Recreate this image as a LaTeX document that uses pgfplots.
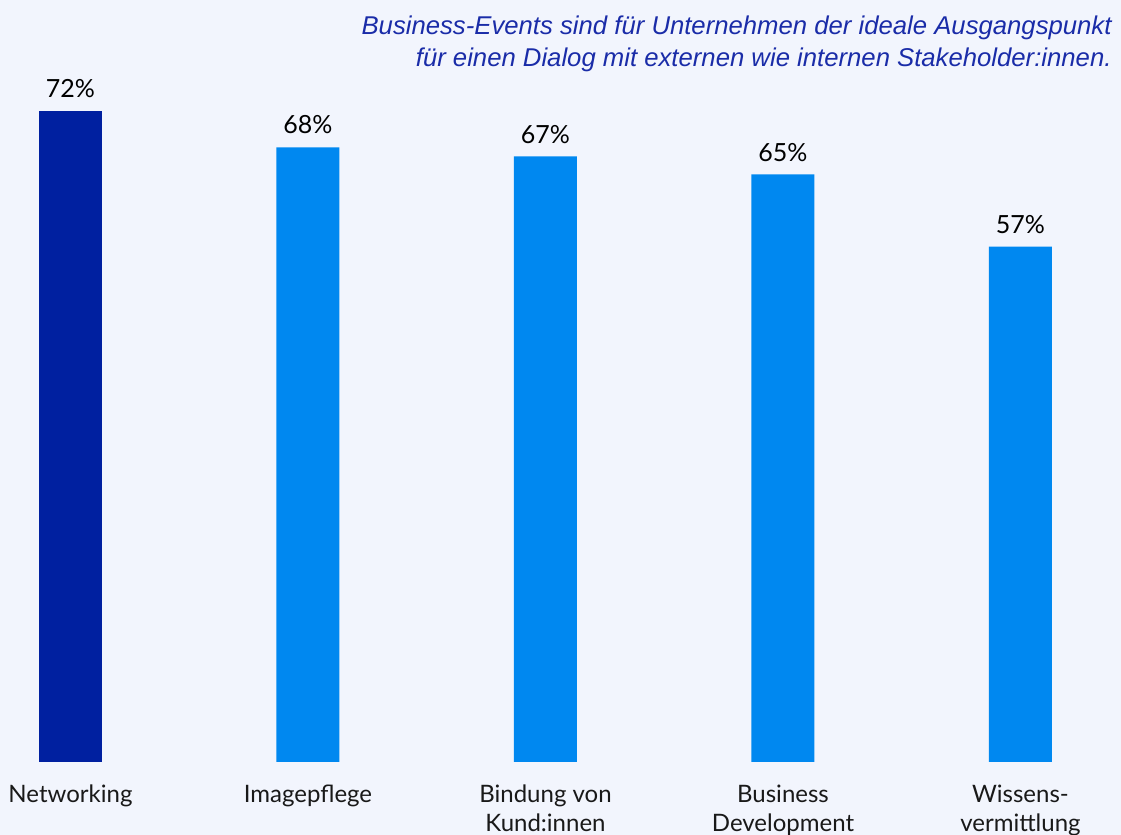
\documentclass[border=0pt]{standalone}
\usepackage{pgfplots}
\pgfplotsset{compat=1.18}
\usepackage{fontspec}
\setmainfont{Lato}
\newfontfamily\titlefont{Liberation Sans}
\definecolor{bg}{HTML}{F2F5FD}
\definecolor{darkbar}{HTML}{0020A0}
\definecolor{lightbar}{HTML}{0088F0}
\definecolor{titleblue}{HTML}{1A2CA8}
\begin{document}
\begin{tikzpicture}
\fill[bg] (0,-36.5pt) rectangle (560.5pt,381pt);
\useasboundingbox (0,-36.5pt) rectangle (560.5pt,381pt);
\begin{axis}[
  at={(0,0)}, anchor=south west,
  scale only axis, width=560.5pt, height=381pt,
  xmin=-0.2968, xmax=4.4232, ymin=0, ymax=84.29,
  axis line style={draw=none}, ytick=\empty,
  xtick={0,1,2,3,4},
  xticklabels={Networking,Imagepflege,{Bindung von\\Kund:innen},{Business\\Development},{Wissens-\\vermittlung}},
  xticklabel style={align=center, font=\fontsize{12}{14.5}\selectfont, text=black!90, yshift=-8pt},
  major tick length=0pt,
  clip=false,
  /pgf/number format/assume math mode=true,
  nodes near coords={\pgfmathprintnumber{\pgfplotspointmeta}\%},
  every node near coord/.append style={font=\fontsize{12.5}{15}\selectfont, text=black, yshift=3pt},
  ybar, bar width=31.5pt, bar shift=0pt,
]
\addplot[fill=darkbar, draw=none] coordinates {(0,72)};
\addplot[fill=lightbar, draw=none] coordinates {(1,68) (2,67) (3,65) (4,57)};
\end{axis}
\node[anchor=base east, inner sep=0pt, font=\titlefont\itshape\fontsize{12.85}{15}\selectfont, text=titleblue] at (556pt,381pt-17.5pt) {Business-Events sind für Unternehmen der ideale Ausgangspunkt};
\node[anchor=base east, inner sep=0pt, font=\titlefont\itshape\fontsize{12.85}{15}\selectfont, text=titleblue] at (556pt,381pt-33.5pt) {für einen Dialog mit externen wie internen Stakeholder:innen.};
\end{tikzpicture}
\end{document}
